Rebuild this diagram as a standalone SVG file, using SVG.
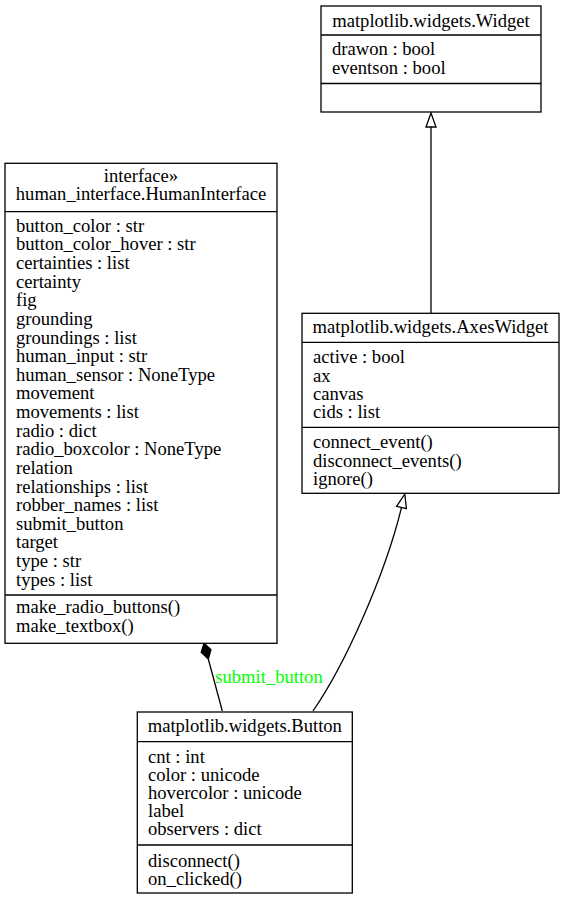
<svg xmlns="http://www.w3.org/2000/svg" width="565" height="899" viewBox="0 0 565 899">
<style>
text{font-family:"Liberation Serif","Times New Roman",serif;font-size:18.6px;fill:#000}
.c{text-anchor:middle}
.box{fill:#fff;stroke:#000;stroke-width:1.3}
.sep{stroke:#000;stroke-width:1.3}
.edge{fill:none;stroke:#000;stroke-width:1.3}
.lbl{fill:#00ff00;text-anchor:middle}
</style>
<rect width="565" height="899" fill="#fff"/>
<g id="connectors">
  <path class="edge" d="M431,313 L431,127"/>
  <polygon points="431,113 436,127 426,127" fill="#fff" stroke="#000" stroke-width="1.3"/>
  <path class="edge" d="M313,711 C345,665 385,575 401.5,507.5"/>
  <polygon points="404.8,494 406.4,508.7 396.6,506.3" fill="#fff" stroke="#000" stroke-width="1.3"/>
  <path class="edge" d="M208.3,659 L222.3,711"/>
  <polygon points="204,643.3 211,649.7 208.3,659 201.2,652.3" fill="#000" stroke="#000" stroke-width="1.3"/>
  <text class="lbl" x="269" y="683.3">submit_button</text>
</g>
<g id="Widget">
  <rect class="box" x="321" y="6" width="220" height="106"/>
  <text class="c" x="431" y="26.5">matplotlib.widgets.Widget</text>
  <line class="sep" x1="321" y1="35" x2="541" y2="35"/>
  <text x="332" y="55">drawon : bool</text>
  <text x="332" y="73.5">eventson : bool</text>
  <line class="sep" x1="321" y1="83.5" x2="541" y2="83.5"/>
</g>
<g id="AxesWidget">
  <rect class="box" x="302" y="313.3" width="257" height="180"/>
  <text class="c" x="430.5" y="333.3">matplotlib.widgets.AxesWidget</text>
  <line class="sep" x1="302" y1="342.3" x2="559" y2="342.3"/>
  <text x="313" y="363.3">active : bool</text>
  <text x="313" y="381.7">ax</text>
  <text x="313" y="400">canvas</text>
  <text x="313" y="418.3">cids : list</text>
  <line class="sep" x1="302" y1="427.3" x2="559" y2="427.3"/>
  <text x="313" y="448.3">connect_event()</text>
  <text x="313" y="466.7">disconnect_events()</text>
  <text x="313" y="485">ignore()</text>
</g>
<g id="HumanInterface">
  <rect class="box" x="5" y="163.3" width="272" height="480"/>
  <text class="c" x="141" y="181.7">interface»</text>
  <text class="c" x="141" y="200">human_interface.HumanInterface</text>
  <line class="sep" x1="5" y1="211.7" x2="277" y2="211.7"/>
  <text x="16" y="231.7">button_color : str</text>
  <text x="16" y="250.3">button_color_hover : str</text>
  <text x="16" y="268.9">certainties : list</text>
  <text x="16" y="287.6">certainty</text>
  <text x="16" y="306.2">fig</text>
  <text x="16" y="324.9">grounding</text>
  <text x="16" y="343.5">groundings : list</text>
  <text x="16" y="362.1">human_input : str</text>
  <text x="16" y="380.7">human_sensor : NoneType</text>
  <text x="16" y="399.4">movement</text>
  <text x="16" y="418">movements : list</text>
  <text x="16" y="436.6">radio : dict</text>
  <text x="16" y="455.3">radio_boxcolor : NoneType</text>
  <text x="16" y="473.9">relation</text>
  <text x="16" y="492.5">relationships : list</text>
  <text x="16" y="511.2">robber_names : list</text>
  <text x="16" y="529.8">submit_button</text>
  <text x="16" y="548.4">target</text>
  <text x="16" y="567">type : str</text>
  <text x="16" y="585.7">types : list</text>
  <line class="sep" x1="5" y1="595" x2="277" y2="595"/>
  <text x="16" y="613.3">make_radio_buttons()</text>
  <text x="16" y="631.7">make_textbox()</text>
</g>
<g id="Button">
  <rect class="box" x="137.3" y="712" width="215" height="181"/>
  <text class="c" x="244.8" y="731.7">matplotlib.widgets.Button</text>
  <line class="sep" x1="137.3" y1="741.7" x2="352.3" y2="741.7"/>
  <text x="148" y="762.5">cnt : int</text>
  <text x="148" y="780.7">color : unicode</text>
  <text x="148" y="799">hovercolor : unicode</text>
  <text x="148" y="817.2">label</text>
  <text x="148" y="835.4">observers : dict</text>
  <line class="sep" x1="137.3" y1="845" x2="352.3" y2="845"/>
  <text x="148" y="866.5">disconnect()</text>
  <text x="148" y="884.8">on_clicked()</text>
</g>
</svg>
